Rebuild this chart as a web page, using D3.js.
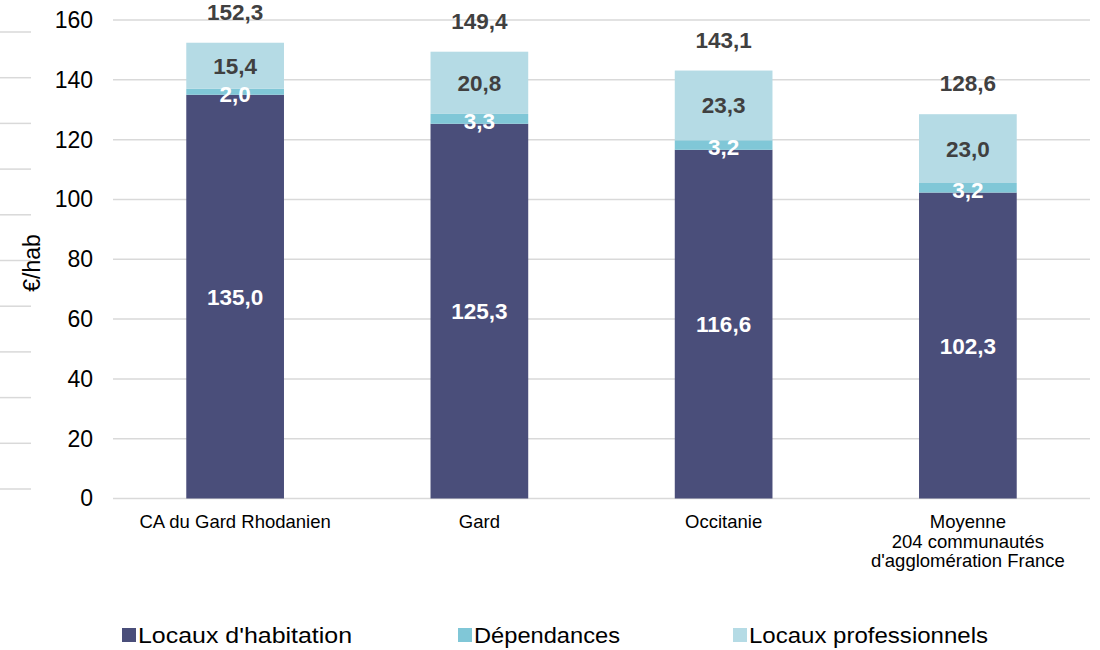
<!DOCTYPE html>
<html>
<head>
<meta charset="utf-8">
<script src="https://cdn.jsdelivr.net/npm/d3@7"></script>
<style>
  body { margin: 0; background: #fff; }
  svg { font-family: "Liberation Sans", Arial, sans-serif; }
</style>
</head>
<body>
<svg id="chart" width="1100" height="650"></svg>
<script>
// Taxe foncière par habitant, ventilée par type de local
const categories = [
  ["CA du Gard Rhodanien"],
  ["Gard"],
  ["Occitanie"],
  ["Moyenne", "204 communautés", "d'agglomération France"]
];
const seriesNames = ["Locaux d'habitation", "Dépendances", "Locaux professionnels"];
const habitation = [135.0, 125.3, 116.6, 102.3];
const dependances = [2.0, 3.3, 3.2, 3.2];
const professionnels = [15.4, 20.8, 23.3, 23.0];
const totals = [152.3, 149.4, 143.1, 128.6];
const yTicks = [0, 20, 40, 60, 80, 100, 120, 140, 160];

const colors = ["#4a4e7a", "#80c7d7", "#b5dbe5"];
const labelColors = ["#ffffff", "#ffffff", "#404040"];

const svg = d3.select("#chart");
const margin = { left: 113, right: 10, top: 20, bottom: 151.5 };
const W = 1100, H = 650;

const x = d3.scaleBand()
  .domain(d3.range(categories.length))
  .range([margin.left, W - margin.right])
  .paddingInner(0.6)
  .paddingOuter(0.3);

const y = d3.scaleLinear().domain([0, 160]).range([H - margin.bottom, margin.top]);

// Short decorative rules at the far left
svg.append("g").selectAll("line")
  .data(d3.range(11))
  .join("line")
  .attr("x1", 0).attr("x2", 31)
  .attr("y1", d => 32 + d * 45.7).attr("y2", d => 32 + d * 45.7)
  .attr("stroke", "#d9d9d9").attr("stroke-width", 1.5);

// Gridlines
svg.append("g").selectAll("line")
  .data(yTicks)
  .join("line")
  .attr("x1", margin.left).attr("x2", W - margin.right)
  .attr("y1", d => y(d)).attr("y2", d => y(d))
  .attr("stroke", "#d9d9d9").attr("stroke-width", 1.5);

// Y axis labels
const yAxis = d3.axisLeft(y).tickValues(yTicks).tickSize(0).tickPadding(0).tickFormat(d3.format("d"));
const yg = svg.append("g").attr("transform", "translate(93,0)").call(yAxis);
yg.select(".domain").remove();
yg.selectAll("text")
  .attr("font-size", 23).attr("fill", "#000")
  .attr("font-family", "Liberation Sans, Arial, sans-serif");

svg.append("text")
  .attr("transform", "translate(40,263) rotate(-90)")
  .attr("text-anchor", "middle")
  .attr("font-size", 23).attr("fill", "#000")
  .text("€/hab");

// Stacked bars
const rows = categories.map((c, i) => ({ i, v: [habitation[i], dependances[i], professionnels[i]] }));
const stacked = d3.stack().keys([0, 1, 2]).value((d, k) => d.v[k])(rows);

const fmt = v => d3.format(".1f")(v).replace(".", ",");

stacked.forEach((layer, k) => {
  svg.append("g").selectAll("rect")
    .data(layer)
    .join("rect")
    .attr("x", d => x(d.data.i))
    .attr("width", x.bandwidth())
    .attr("y", d => y(d[1]))
    .attr("height", d => y(d[0]) - y(d[1]))
    .attr("fill", colors[k]);
});

stacked.forEach((layer, k) => {
  svg.append("g").selectAll("text")
    .data(layer)
    .join("text")
    .attr("x", d => x(d.data.i) + x.bandwidth() / 2)
    .attr("y", d => (y(d[0]) + y(d[1])) / 2 + (k === 1 ? 2 : 0))
    .attr("dy", "0.36em")
    .attr("text-anchor", "middle")
    .attr("font-size", 22.5).attr("font-weight", "bold")
    .attr("fill", labelColors[k])
    .text(d => fmt(d.data.v[k]));
});

// Totals above bars
svg.append("g").selectAll("text")
  .data(totals)
  .join("text")
  .attr("x", (d, i) => x(i) + x.bandwidth() / 2)
  .attr("y", d => y(d) - 23)
  .attr("text-anchor", "middle")
  .attr("font-size", 22.5).attr("font-weight", "bold")
  .attr("fill", "#404040")
  .text(d => fmt(d));

// Category labels
const xl = svg.append("g").selectAll("text")
  .data(categories)
  .join("text")
  .attr("x", (d, i) => x(i) + x.bandwidth() / 2)
  .attr("y", 528)
  .attr("text-anchor", "middle")
  .attr("font-size", 18.5).attr("fill", "#000");
xl.selectAll("tspan")
  .data(d => d)
  .join("tspan")
  .attr("x", function () { return this.parentNode.getAttribute("x"); })
  .attr("dy", (d, j) => j === 0 ? 0 : 19.5)
  .text(d => d);

// Legend
const legendX = [122, 458, 733];
const lg = svg.append("g").selectAll("g")
  .data(seriesNames)
  .join("g")
  .attr("transform", (d, i) => `translate(${legendX[i]},628)`);
lg.append("rect").attr("width", 14).attr("height", 14).attr("fill", (d, i) => colors[i]);
lg.append("text")
  .attr("x", 16).attr("y", 14.5)
  .attr("font-size", 22).attr("fill", "#000")
  .attr("textLength", (d, i) => [214, 146, 239][i])
  .attr("lengthAdjust", "spacingAndGlyphs")
  .text(d => d);
</script>
</body>
</html>
